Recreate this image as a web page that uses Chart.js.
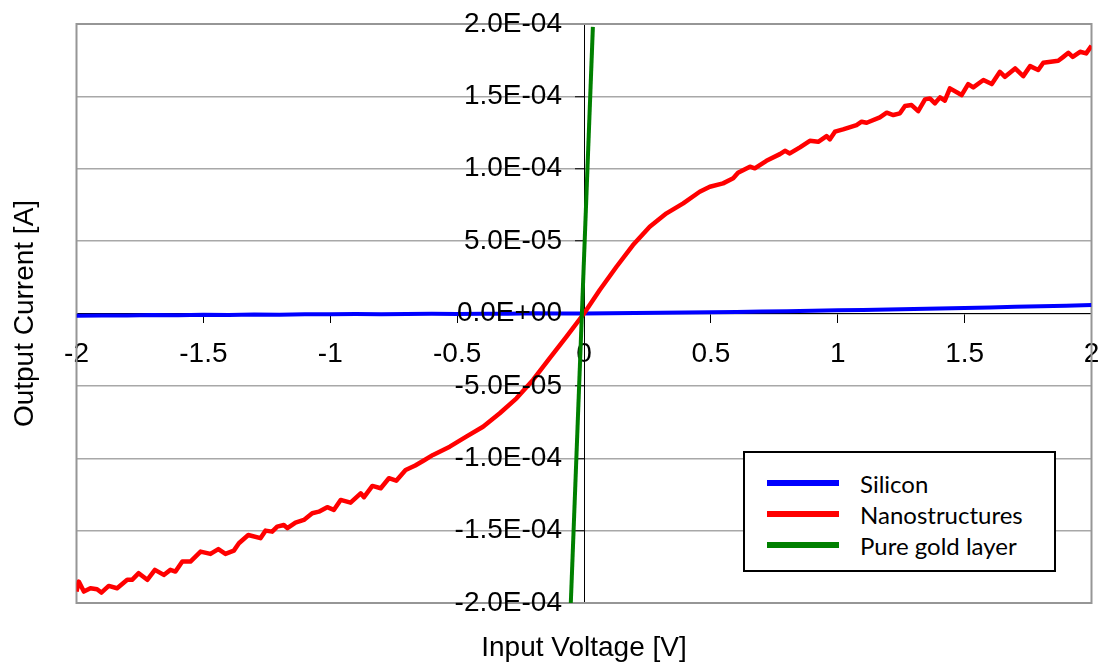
<!DOCTYPE html>
<html>
<head>
<meta charset="utf-8">
<script src="https://cdn.jsdelivr.net/npm/chart.js@4.4.1/dist/chart.umd.min.js"></script>
<style>
  html, body { margin: 0; padding: 0; background: #fff; }
  #wrap { position: relative; width: 1101px; height: 665px; }
  #legend {
    position: absolute; left: 743px; top: 451px; width: 313px; height: 121px;
    box-sizing: border-box; border: 2px solid #000; background: #fff;
    font-family: Lato, "Open Sans", sans-serif; font-size: 24px; color: #000;
  }
  #legend .row { position: absolute; left: 22px; height: 30px; display: flex; align-items: center; white-space: nowrap; }
  #legend .swatch { width: 72px; height: 6px; margin-right: 21px; }
</style>
</head>
<body>
<div id="wrap">
  <canvas id="c" width="1101" height="665"></canvas>
  <div id="legend"></div>
</div>
<script>
// Series names and colours
const seriesNames = ['Silicon', 'Nanostructures', 'Pure gold layer'];
const seriesColors = ['#0000ff', '#ff0000', '#008000'];

// Silicon: voltage [V] and current [A]
const siliconVoltage = [-2.0, -1.9, -1.8, -1.7, -1.6, -1.5, -1.4, -1.3, -1.2, -1.1, -1.0,
  -0.9, -0.8, -0.7, -0.6, -0.5, -0.4, -0.3, -0.2, -0.1, 0.0,
  0.1, 0.2, 0.3, 0.4, 0.5, 0.6, 0.7, 0.8, 0.9, 1.0,
  1.1, 1.2, 1.3, 1.4, 1.5, 1.6, 1.7, 1.8, 1.9, 2.0];
const siliconCurrent = [-1.6e-6, -1.3e-6, -1.4e-6, -1.1e-6, -1.2e-6, -0.9e-6, -1.0e-6, -0.7e-6, -0.8e-6, -0.5e-6, -0.6e-6,
  -0.4e-6, -0.5e-6, -0.3e-6, -0.2e-6, -0.3e-6, -0.1e-6, -0.2e-6, 0.1e-6, 0.0, 0.0,
  0.2e-6, 0.4e-6, 0.5e-6, 0.7e-6, 0.9e-6, 1.1e-6, 1.4e-6, 1.6e-6, 1.9e-6, 2.2e-6,
  2.5e-6, 2.8e-6, 3.1e-6, 3.5e-6, 3.8e-6, 4.2e-6, 4.6e-6, 5.0e-6, 5.3e-6, 5.8e-6];

// Nanostructures: voltage [V] and current [A]
const nanoVoltage = [-2.000, -1.991, -1.971, -1.945, -1.919, -1.902, -1.873, -1.840, -1.800, -1.781,
  -1.755, -1.721, -1.691, -1.656, -1.630, -1.610, -1.583, -1.551, -1.511, -1.472,
  -1.441, -1.413, -1.380, -1.360, -1.323, -1.275, -1.255, -1.229, -1.209, -1.183,
  -1.169, -1.137, -1.104, -1.071, -1.045, -1.012, -0.986, -0.959, -0.920, -0.880,
  -0.867, -0.834, -0.801, -0.769, -0.740, -0.703, -0.665, -0.628, -0.595, -0.529,
  -0.464, -0.398, -0.332, -0.266, -0.201, -0.135, -0.069, 0.000, 0.062, 0.128,
  0.193, 0.259, 0.325, 0.391, 0.456, 0.496, 0.548, 0.588, 0.607, 0.654,
  0.673, 0.719, 0.772, 0.792, 0.811, 0.851, 0.890, 0.923, 0.956, 0.969,
  0.989, 1.021, 1.074, 1.094, 1.114, 1.166, 1.193, 1.219, 1.245, 1.265,
  1.291, 1.317, 1.344, 1.363, 1.383, 1.403, 1.422, 1.442, 1.488, 1.514,
  1.534, 1.574, 1.607, 1.639, 1.659, 1.699, 1.731, 1.758, 1.790, 1.810,
  1.869, 1.889, 1.909, 1.926, 1.955, 1.979, 2.000];
const nanoCurrent = [-1.921e-4, -1.852e-4, -1.921e-4, -1.898e-4, -1.905e-4, -1.928e-4, -1.882e-4, -1.898e-4, -1.840e-4, -1.840e-4,
  -1.794e-4, -1.840e-4, -1.771e-4, -1.806e-4, -1.771e-4, -1.783e-4, -1.714e-4, -1.714e-4, -1.645e-4, -1.661e-4,
  -1.628e-4, -1.661e-4, -1.638e-4, -1.587e-4, -1.530e-4, -1.552e-4, -1.500e-4, -1.507e-4, -1.472e-4, -1.461e-4,
  -1.483e-4, -1.445e-4, -1.426e-4, -1.380e-4, -1.369e-4, -1.338e-4, -1.357e-4, -1.288e-4, -1.307e-4, -1.242e-4,
  -1.269e-4, -1.191e-4, -1.207e-4, -1.138e-4, -1.155e-4, -1.081e-4, -1.050e-4, -1.012e-4, -0.977e-4, -0.920e-4,
  -0.851e-4, -0.782e-4, -0.689e-4, -0.586e-4, -0.459e-4, -0.309e-4, -0.160e-4, 0.000, 0.162e-4, 0.323e-4,
  0.473e-4, 0.599e-4, 0.692e-4, 0.761e-4, 0.841e-4, 0.876e-4, 0.899e-4, 0.934e-4, 0.972e-4, 1.014e-4,
  1.003e-4, 1.055e-4, 1.101e-4, 1.124e-4, 1.106e-4, 1.148e-4, 1.193e-4, 1.186e-4, 1.226e-4, 1.203e-4,
  1.256e-4, 1.272e-4, 1.302e-4, 1.325e-4, 1.318e-4, 1.355e-4, 1.387e-4, 1.371e-4, 1.383e-4, 1.433e-4,
  1.440e-4, 1.398e-4, 1.479e-4, 1.486e-4, 1.452e-4, 1.493e-4, 1.470e-4, 1.555e-4, 1.509e-4, 1.585e-4,
  1.562e-4, 1.613e-4, 1.585e-4, 1.670e-4, 1.635e-4, 1.693e-4, 1.640e-4, 1.709e-4, 1.682e-4, 1.732e-4,
  1.746e-4, 1.773e-4, 1.801e-4, 1.773e-4, 1.808e-4, 1.797e-4, 1.850e-4];

// Pure gold layer: voltage [V] and current [A]
const goldVoltage = [-0.052, 0.035];
const goldCurrent = [-2.0e-4, 1.98e-4];

// Axis ticks
const xTickValues = [-2, -1.5, -1, -0.5, 0, 0.5, 1, 1.5, 2];
const xTickLabels = ['-2', '-1.5', '-1', '-0.5', '0', '0.5', '1', '1.5', '2'];
const yTickValues = [-2.0e-4, -1.5e-4, -1.0e-4, -5.0e-5, 0, 5.0e-5, 1.0e-4, 1.5e-4, 2.0e-4];
const yTickLabels = ['-2.0E-04', '-1.5E-04', '-1.0E-04', '-5.0E-05', '0.0E+00', '5.0E-05', '1.0E-04', '1.5E-04', '2.0E-04'];

const toPoints = (xs, ys) => xs.map((x, i) => ({ x: x, y: ys[i] }));

const axisFont = { family: '"Liberation Sans", Arial, sans-serif', size: 28 };

// Crossing axes sit inside the plot, so their label overhang should not shrink it
const noOverhang = s => { s.paddingLeft = 0; s.paddingRight = 0; s.paddingTop = 0; s.paddingBottom = 0; };

// Gray frame around the plot area
const plotFrame = {
  id: 'plotFrame',
  beforeDatasetsDraw(chart) {
    const { ctx, chartArea: a } = chart;
    ctx.save();
    ctx.strokeStyle = '#969696';
    ctx.lineWidth = 2;
    ctx.strokeRect(a.left, a.top, a.right - a.left, a.bottom - a.top);
    ctx.restore();
  }
};

const chart = new Chart(document.getElementById('c'), {
  type: 'scatter',
  data: {
    datasets: [
      { label: seriesNames[0], data: toPoints(siliconVoltage, siliconCurrent), borderColor: seriesColors[0], backgroundColor: seriesColors[0], borderWidth: 4, order: 2 },
      { label: seriesNames[1], data: toPoints(nanoVoltage, nanoCurrent), borderColor: seriesColors[1], backgroundColor: seriesColors[1], borderWidth: 4.5, order: 1 },
      { label: seriesNames[2], data: toPoints(goldVoltage, goldCurrent), borderColor: seriesColors[2], backgroundColor: seriesColors[2], borderWidth: 4, order: 0 }
    ]
  },
  options: {
    responsive: false,
    animation: false,
    devicePixelRatio: 1,
    showLine: true,
    elements: { point: { radius: 0, hoverRadius: 0 }, line: { tension: 0, borderCapStyle: 'butt', borderJoinStyle: 'round' } },
    layout: { padding: { top: 24, right: 9.5, left: 0, bottom: 0 } },
    plugins: { legend: { display: false }, tooltip: { enabled: false } },
    scales: {
      x: {
        type: 'linear', position: { y: 0 }, min: -2, max: 2,
        afterBuildTicks: s => { s.ticks = xTickValues.map(v => ({ value: v })); },
        afterFit: noOverhang,
        ticks: { callback: (v, i) => xTickLabels[i], font: axisFont, color: '#000', padding: 15, maxRotation: 0, autoSkip: false },
        grid: { drawOnChartArea: false, drawTicks: true, tickLength: 9, tickColor: '#000', tickWidth: 1 },
        border: { color: '#000', width: 1 }
      },
      y: {
        type: 'linear', position: 'center', min: -2.0e-4, max: 2.0e-4,
        afterBuildTicks: s => { s.ticks = yTickValues.map(v => ({ value: v })); },
        afterFit: noOverhang,
        ticks: { callback: (v, i) => yTickLabels[i], font: axisFont, color: '#000', padding: 13, z: 1, autoSkip: false },
        grid: { color: '#a8a8a8', lineWidth: 1.5, drawTicks: true, tickLength: 9, tickColor: '#000', tickWidth: 1 },
        border: { color: '#000', width: 1 }
      },
      xTitle: {
        type: 'linear', axis: 'x', position: 'bottom', min: 0, max: 1,
        ticks: { display: false }, grid: { display: false, drawTicks: false }, border: { display: false },
        title: { display: true, text: 'Input Voltage [V]', font: axisFont, color: '#000', padding: { top: 28.4, bottom: 0 } }
      },
      yTitle: {
        type: 'linear', axis: 'y', position: 'left', min: 0, max: 1,
        ticks: { display: false }, grid: { display: false, drawTicks: false }, border: { display: false },
        title: { display: true, text: 'Output Current [A]', font: axisFont, color: '#000', padding: { top: 8, bottom: 34.9 } }
      }
    }
  },
  plugins: [plotFrame]
});

// Legend built from the chart's datasets, in dataset order
const legendEl = document.getElementById('legend');
chart.data.datasets.forEach((ds, i) => {
  const row = document.createElement('div');
  row.className = 'row';
  row.style.top = (15 + 31 * i) + 'px';
  const sw = document.createElement('span');
  sw.className = 'swatch';
  sw.style.background = ds.borderColor;
  const txt = document.createElement('span');
  txt.textContent = ds.label;
  row.appendChild(sw);
  row.appendChild(txt);
  legendEl.appendChild(row);
});
</script>
</body>
</html>
